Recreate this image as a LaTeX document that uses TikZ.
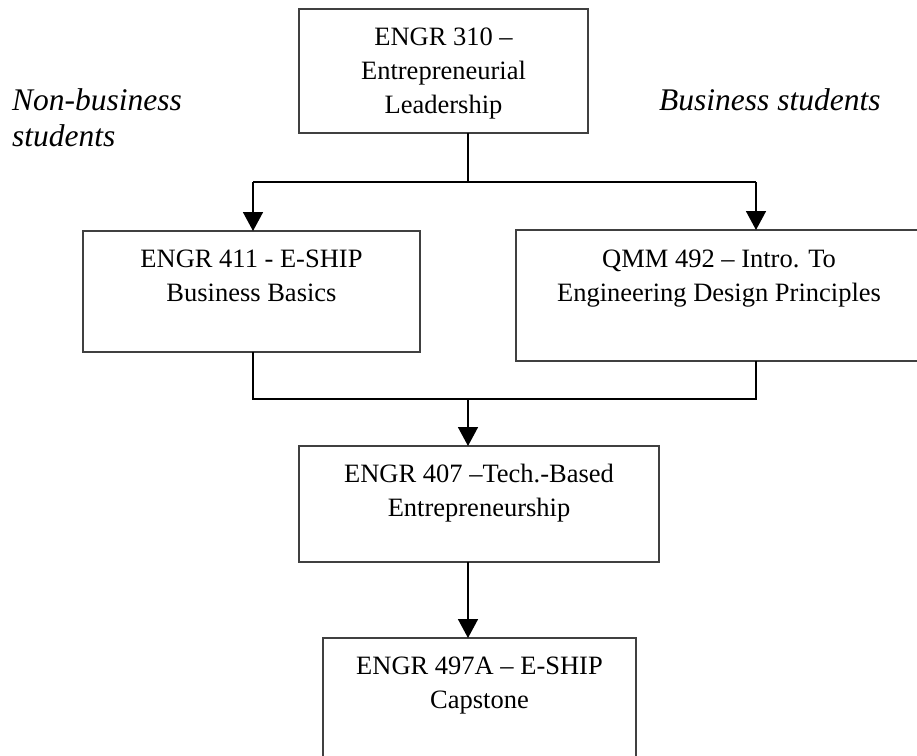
\documentclass[tikz,border=0pt]{standalone}
\usepackage{fontspec}
\setmainfont{Liberation Serif}
\usetikzlibrary{arrows.meta,calc}
\begin{document}
\begin{tikzpicture}[x=1pt,y=-1pt,
  box/.style={draw=black!75, line width=1.5pt, inner sep=0pt, outer sep=0pt},
  lbl/.style={inner sep=0pt, anchor=base, font=\fontsize{26.5}{34}\selectfont},
  side/.style={inner sep=0pt, anchor=base west, font=\fontsize{31.5}{36}\selectfont\itshape},
  conn/.style={line width=1.6pt, draw=black},
  arr/.style={conn, -{Triangle[width=20pt,length=19pt]}}
]
\useasboundingbox (0,0) rectangle (917,755);

% boxes
\node[box, minimum width=289pt, minimum height=124pt] (b1) at (443.5,71) {};
\node[box, minimum width=337pt, minimum height=121pt] (b2) at (251.5,291.5) {};
\node[box, minimum width=406pt, minimum height=131pt] (b3) at (719,295.5) {};
\node[box, minimum width=360pt, minimum height=116pt] (b4) at (479,504) {};
\node[box, minimum width=313pt, minimum height=120pt] (b5) at (479.5,698) {};

% box texts
\node[lbl] (t1) at ($(b1.north)+(0,36)$) {\begin{tabular}[t]{@{}c@{}}ENGR 310 –\\Entrepreneurial\\Leadership\end{tabular}};
\node[lbl] (t2) at ($(b2.north)+(0,36)$) {\begin{tabular}[t]{@{}c@{}}ENGR 411 - E-SHIP\\Business Basics\end{tabular}};
\node[lbl] (t3) at ($(b3.north)+(0,37)$) {\begin{tabular}[t]{@{}c@{}}QMM 492 – Intro. To\\Engineering Design Principles\end{tabular}};
\node[lbl] (t4) at ($(b4.north)+(0,36)$) {\begin{tabular}[t]{@{}c@{}}ENGR 407 –Tech.-Based\\Entrepreneurship\end{tabular}};
\node[lbl] (t5) at ($(b5.north)+(0,36)$) {\begin{tabular}[t]{@{}c@{}}ENGR 497A – E-SHIP\\Capstone\end{tabular}};

% side labels
\node[side] (nb) at (12,110) {\begin{tabular}[t]{@{}l@{}}Non-business\\students\end{tabular}};
\node[side] (bs) at (659,110) {Business students};

% connectors
\coordinate (j1) at (468,182);
\coordinate (jl) at (253,182);
\coordinate (jr) at (756,182);
\draw[conn] (b1.south -| j1) -- (j1);
\draw[conn] (jl) -- (jr);
\draw[arr] (jl) -- (jl |- b2.north);
\draw[arr] (jr) -- (jr |- b3.north);

\coordinate (ml) at (253,399);
\coordinate (mr) at (756,399);
\coordinate (mm) at (468,399);
\draw[conn] (b2.south -| ml) -- (ml) -- (mr) -- (b3.south -| mr);
\draw[arr] (mm) -- (mm |- b4.north);

\coordinate (m2) at (468,600);
\draw[arr] (b4.south -| m2) -- (b5.north -| m2);
\end{tikzpicture}
\end{document}
